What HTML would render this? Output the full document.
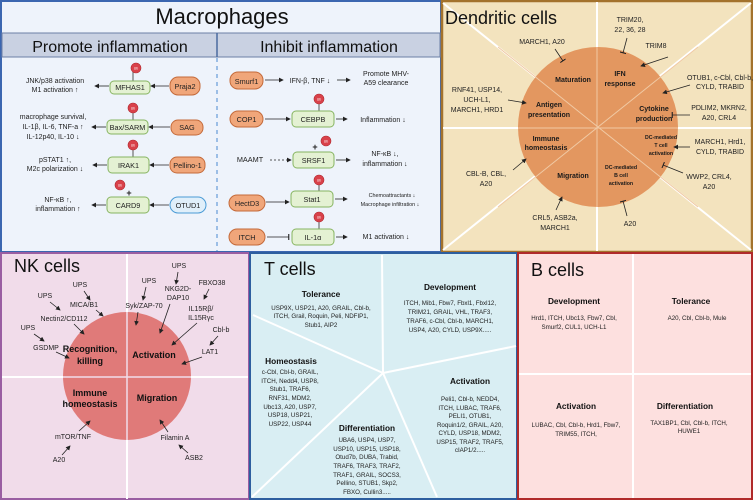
<!DOCTYPE html>
<html><head><meta charset="utf-8"><style>
html,body{margin:0;padding:0;background:#fff}
svg{display:block;font-family:"Liberation Sans",Arial,sans-serif}
.b{font-weight:bold}
</style></head><body>
<svg width="753" height="500" viewBox="0 0 753 500" xmlns="http://www.w3.org/2000/svg">
<defs>
<marker id="a" markerWidth="6" markerHeight="6" refX="5" refY="3" orient="auto"><path d="M0,0 L6,3 L0,6 z" fill="#222"/></marker>
<marker id="t" markerWidth="2" markerHeight="8" refX="1" refY="4" orient="auto"><rect x="0" y="0" width="1.4" height="8" fill="#222"/></marker>
</defs>

<!-- MACROPHAGES -->
<rect x="1" y="1" width="440" height="251" fill="#eef3fb" stroke="#3b66b0" stroke-width="2"/>
<text x="222" y="24" font-size="22" text-anchor="middle" fill="#111">Macrophages</text>
<rect x="2" y="33" width="438" height="24" fill="#c9d1e2" stroke="#6c7fa6" stroke-width="1"/>
<line x1="217" y1="33" x2="217" y2="57" stroke="#4a6aa0" stroke-width="1.5"/>
<line x1="217" y1="58" x2="217" y2="251" stroke="#4a8ad0" stroke-width="1" stroke-dasharray="4,4"/>
<text x="110" y="52" font-size="16" text-anchor="middle" fill="#111">Promote inflammation</text>
<text x="329" y="52" font-size="16" text-anchor="middle" fill="#111">Inhibit inflammation</text>

<g font-size="7" fill="#222" text-anchor="middle">
<g stroke="#555" stroke-width="1">
<line x1="133" y1="70" x2="133" y2="81"/><line x1="133" y1="112" x2="133" y2="121"/><line x1="133" y1="149" x2="133" y2="157"/>
<line x1="319" y1="103" x2="319" y2="111"/><line x1="319" y1="183" x2="319" y2="191"/><line x1="319" y1="221" x2="319" y2="229"/>
</g>
<g fill="#d9414a" stroke="#b02a30" stroke-width="0.6">
<circle cx="136" cy="68" r="5"/><circle cx="133" cy="108" r="5"/><circle cx="133" cy="145" r="5"/><circle cx="120" cy="185" r="5"/>
<circle cx="319" cy="99" r="5"/><circle cx="326" cy="141" r="5"/><circle cx="319" cy="180" r="5"/><circle cx="319" cy="217" r="5"/>
</g>
<g font-size="3.5" fill="#fff"><text x="136" y="69.5">Ub</text><text x="133" y="109.5">Ub</text><text x="133" y="146.5">Ub</text><text x="120" y="186.5">Ub</text><text x="319" y="100.5">Ub</text><text x="326" y="142.5">Ub</text><text x="319" y="181.5">Ub</text><text x="319" y="218.5">Ub</text></g>
<text x="129" y="196" font-size="9" class="b">+</text><text x="315" y="150" font-size="9" class="b">+</text>

<g fill="#e4f1d3" stroke="#86b460" stroke-width="1">
<rect x="110" y="81" width="40" height="13" rx="4"/><rect x="107" y="120" width="41" height="14" rx="4"/>
<rect x="108" y="157" width="41" height="16" rx="4"/><rect x="107" y="197" width="42" height="16" rx="4"/>
<rect x="292" y="111" width="42" height="16" rx="4"/><rect x="293" y="152" width="41" height="16" rx="4"/>
<rect x="291" y="191" width="42" height="16" rx="4"/><rect x="292" y="229" width="42" height="16" rx="4"/>
</g>
<g fill="#f0a67a" stroke="#c46a3a" stroke-width="1">
<rect x="170" y="77" width="30" height="18" rx="8"/><rect x="171" y="120" width="32" height="15" rx="7"/>
<rect x="170" y="157" width="35" height="16" rx="7"/>
<rect x="230" y="72" width="33" height="17" rx="8"/><rect x="230" y="111" width="33" height="16" rx="8"/>
<rect x="229" y="195" width="36" height="16" rx="8"/><rect x="229" y="229" width="36" height="16" rx="8"/>
</g>
<rect x="170" y="197" width="36" height="16" rx="8" fill="#e0effa" stroke="#4a9bd6"/>

<g font-size="7.3">
<text x="130" y="90">MFHAS1</text><text x="127.5" y="130">Bax/SARM</text><text x="128.5" y="168">IRAK1</text><text x="128" y="208">CARD9</text>
<text x="185" y="89">Praja2</text><text x="187" y="130">SAG</text><text x="187.5" y="168">Pellino-1</text><text x="188" y="208">OTUD1</text>
<text x="246.5" y="84">Smurf1</text><text x="246.5" y="122">COP1</text><text x="247" y="206">HectD3</text><text x="247" y="240">ITCH</text>
<text x="313" y="122">CEBPB</text><text x="313.5" y="163">SRSF1</text><text x="312" y="202">Stat1</text><text x="313" y="240">IL-1α</text>
<text x="250" y="162">MAAMT</text>
</g>
<g font-size="7">
<text x="55" y="83">JNK/p38 activation</text><text x="55" y="92">M1 activation ↑</text>
<text x="53" y="119">macrophage survival,</text><text x="53" y="129">IL-1β, IL-6, TNF-a ↑</text><text x="53" y="139">IL-12p40, IL-10 ↓</text>
<text x="55" y="162">pSTAT1 ↑,</text><text x="55" y="171">M2c polarization ↓</text>
<text x="58" y="202">NF-κB ↑,</text><text x="58" y="211">inflammation ↑</text>
<text x="310" y="83">IFN-β, TNF ↓</text>
<text x="386" y="76">Promote MHV-</text><text x="386" y="85">A59 clearance</text>
<text x="383" y="122">Inflammation ↓</text>
<text x="385" y="156">NF-κB ↓,</text><text x="385" y="166">inflammation ↓</text>
<text x="392" y="197" font-size="5.4">Chemoattractants ↓</text><text x="390" y="206" font-size="5.4">Macrophage infiltration ↓</text>
<text x="386" y="239">M1 activation ↓</text>
</g>
<g stroke="#222" stroke-width="0.8" fill="none" marker-end="url(#a)">
<line x1="169" y1="86" x2="151" y2="86"/><line x1="109" y1="86" x2="95" y2="86"/>
<line x1="170" y1="127" x2="149" y2="127"/><line x1="106" y1="127" x2="92" y2="127"/>
<line x1="169" y1="165" x2="150" y2="165"/><line x1="107" y1="165" x2="93" y2="165"/>
<line x1="169" y1="205" x2="150" y2="205"/><line x1="106" y1="205" x2="92" y2="205"/>
<line x1="265" y1="80" x2="283" y2="80"/><line x1="337" y1="80" x2="350" y2="80"/>
<line x1="265" y1="119" x2="290" y2="119"/><line x1="336" y1="119" x2="347" y2="119"/>
<line x1="270" y1="160" x2="291" y2="160" stroke-dasharray="2,2"/><line x1="336" y1="160" x2="350" y2="160"/>
<line x1="266" y1="202" x2="289" y2="202"/><line x1="335" y1="199" x2="347" y2="199"/>
<line x1="336" y1="237" x2="347" y2="237"/>
</g>
<line x1="267" y1="237" x2="289" y2="237" stroke="#222" stroke-width="0.8" marker-end="url(#t)"/>
</g>

<!-- DENDRITIC CELLS -->
<rect x="442" y="1" width="310" height="251" fill="#f3e3be" stroke="#a3722c" stroke-width="2.5"/>
<g stroke="#fff" stroke-width="2">
<line x1="443" y1="3" x2="751" y2="250"/><line x1="751" y1="3" x2="443" y2="250"/>
<line x1="443" y1="128" x2="751" y2="128"/><line x1="597" y1="2" x2="597" y2="251"/>
</g>
<circle cx="598" cy="127" r="80" fill="#e39760"/>
<g stroke="#f0c9a4" stroke-width="1">
<line x1="498" y1="47" x2="698" y2="207"/><line x1="698" y1="47" x2="498" y2="207"/>
<line x1="518" y1="128" x2="678" y2="128"/><line x1="597" y1="47" x2="597" y2="207"/>
</g>
<text x="445" y="24" font-size="18" fill="#111">Dendritic cells</text>
<g font-size="7" text-anchor="middle" fill="#222">
<text x="542" y="44">MARCH1, A20</text>
<text x="630" y="22">TRIM20,</text><text x="630" y="32">22, 36, 28</text>
<text x="656" y="48">TRIM8</text>
<text x="720" y="80">OTUB1, c-Cbl, Cbl-b,</text><text x="720" y="89">CYLD, TRABID</text>
<text x="477" y="92">RNF41, USP14,</text><text x="477" y="102">UCH-L1,</text><text x="477" y="112">MARCH1, HRD1</text>
<text x="719" y="110">PDLIM2, MKRN2,</text><text x="719" y="120">A20, CRL4</text>
<text x="720" y="144">MARCH1, Hrd1,</text><text x="720" y="154">CYLD, TRABID</text>
<text x="486" y="176">CBL-B, CBL,</text><text x="486" y="186">A20</text>
<text x="709" y="179">WWP2, CRL4,</text><text x="709" y="189">A20</text>
<text x="555" y="220">CRL5, ASB2a,</text><text x="555" y="230">MARCH1</text>
<text x="630" y="226">A20</text>
</g>
<g font-size="7" text-anchor="middle" fill="#1a1a1a" class="b">
<text x="573" y="82">Maturation</text>
<text x="620" y="76">IFN</text><text x="620" y="86">response</text>
<text x="549" y="107">Antigen</text><text x="549" y="117">presentation</text>
<text x="654" y="111">Cytokine</text><text x="654" y="121">production</text>
<text x="546" y="141">Immune</text><text x="546" y="150">homeostasis</text>
<text x="661" y="139" font-size="5.2">DC-mediated</text><text x="661" y="147" font-size="5.2">T cell</text><text x="661" y="155" font-size="5.2">activation</text>
<text x="573" y="178">Migration</text>
<text x="621" y="169" font-size="5.2">DC-mediated</text><text x="621" y="177" font-size="5.2">B cell</text><text x="621" y="185" font-size="5.2">activation</text>
</g>
<g stroke="#222" stroke-width="0.8" fill="none">
<g marker-end="url(#a)">
<line x1="668" y1="57" x2="641" y2="66"/><line x1="690" y1="85" x2="663" y2="93"/>
<line x1="508" y1="100" x2="526" y2="103"/><line x1="690" y1="147" x2="674" y2="147"/>
<line x1="513" y1="170" x2="526" y2="159"/><line x1="556" y1="210" x2="562" y2="197"/>
</g>
<g marker-end="url(#t)">
<line x1="555" y1="49" x2="563" y2="61"/><line x1="627" y1="38" x2="623" y2="53"/>
<line x1="690" y1="115" x2="672" y2="115"/><line x1="683" y1="173" x2="663" y2="165"/>
<line x1="627" y1="216" x2="623" y2="201"/>
</g>
</g>

<!-- NK CELLS -->
<rect x="1" y="253" width="248" height="246" fill="#f1dcea" stroke="#9a5ea2" stroke-width="2"/>
<g stroke="#fff" stroke-width="2"><line x1="127" y1="254" x2="127" y2="499"/><line x1="2" y1="377" x2="248" y2="377"/></g>
<circle cx="127" cy="376" r="64" fill="#e07a79"/>
<g stroke="#f1dcea" stroke-width="1.5"><line x1="127" y1="312" x2="127" y2="440"/><line x1="63" y1="377" x2="191" y2="377"/></g>
<text x="14" y="272" font-size="18" fill="#111">NK cells</text>
<g font-size="7" text-anchor="middle" fill="#222">
<text x="80" y="287">UPS</text><text x="84" y="307">MICA/B1</text>
<text x="45" y="298">UPS</text><text x="64" y="321">Nectin2/CD112</text>
<text x="28" y="330">UPS</text><text x="46" y="350">GSDMP</text>
<text x="149" y="283">UPS</text><text x="144" y="308">Syk/ZAP-70</text>
<text x="179" y="268">UPS</text><text x="178" y="291">NKG2D-</text><text x="178" y="300">DAP10</text>
<text x="212" y="285">FBXO38</text><text x="201" y="311">IL15Rβ/</text><text x="201" y="320">IL15Rγc</text>
<text x="221" y="332">Cbl-b</text><text x="210" y="354">LAT1</text>
<text x="73" y="439">mTOR/TNF</text><text x="59" y="462">A20</text>
<text x="175" y="440">Filamin A</text><text x="194" y="460">ASB2</text>
</g>
<g font-size="9" text-anchor="middle" fill="#111" class="b">
<text x="90" y="352">Recognition,</text><text x="90" y="364">killing</text>
<text x="154" y="358">Activation</text>
<text x="90" y="396">Immune</text><text x="90" y="407">homeostasis</text>
<text x="157" y="401">Migration</text>
</g>
<g stroke="#222" stroke-width="0.8" marker-end="url(#a)">
<line x1="84" y1="291" x2="90" y2="300"/><line x1="96" y1="310" x2="103" y2="316"/>
<line x1="50" y1="302" x2="60" y2="310"/><line x1="74" y1="324" x2="84" y2="334"/>
<line x1="34" y1="334" x2="44" y2="341"/><line x1="56" y1="352" x2="69" y2="358"/>
<line x1="146" y1="287" x2="143" y2="300"/><line x1="138" y1="312" x2="136" y2="325"/>
<line x1="178" y1="272" x2="176" y2="284"/><line x1="170" y1="304" x2="160" y2="333"/>
<line x1="209" y1="289" x2="204" y2="299"/><line x1="197" y1="323" x2="172" y2="345"/>
<line x1="218" y1="336" x2="210" y2="345"/><line x1="202" y1="357" x2="182" y2="364"/>
<line x1="79" y1="431" x2="90" y2="421"/><line x1="62" y1="455" x2="70" y2="446"/>
<line x1="168" y1="432" x2="160" y2="420"/><line x1="188" y1="453" x2="179" y2="445"/>
</g>

<!-- T CELLS -->
<rect x="250" y="253" width="267" height="246" fill="#d9eef3" stroke="#2d5e9f" stroke-width="2"/>
<g stroke="#fff" stroke-width="2">
<line x1="383" y1="373" x2="253" y2="315"/><line x1="383" y1="373" x2="382" y2="255"/>
<line x1="383" y1="373" x2="516" y2="346"/><line x1="383" y1="373" x2="252" y2="497"/>
<line x1="383" y1="373" x2="437" y2="497"/>
</g>
<text x="264" y="275" font-size="18" fill="#111">T cells</text>
<g font-size="8.3" text-anchor="middle" fill="#111" class="b">
<text x="321" y="297">Tolerance</text><text x="450" y="290">Development</text>
<text x="291" y="364">Homeostasis</text><text x="470" y="384">Activation</text><text x="367" y="431">Differentiation</text>
</g>
<g font-size="6.2" text-anchor="middle" fill="#222">
<text x="321" y="310">USP9X, USP21, A20, GRAIL, Cbl-b,</text><text x="321" y="318">ITCH, Grail, Roquin, Peli, NDFIP1,</text><text x="321" y="327">Stub1, AIP2</text>
<text x="450" y="305">ITCH, Mib1, Fbw7, Fbxl1, Fbxl12,</text><text x="450" y="314">TRIM21, GRAIL, VHL, TRAF3,</text><text x="450" y="323">TRAF6, c-Cbl, Cbl-b, MARCH1,</text><text x="450" y="332">USP4, A20, CYLD, USP9X.....</text>
<text x="290" y="374">c-Cbl, Cbl-b, GRAIL,</text><text x="290" y="383">ITCH, Nedd4, USP8,</text><text x="290" y="391">Stub1, TRAF6,</text><text x="290" y="400">RNF31, MDM2,</text><text x="290" y="409">Ubc13, A20, USP7,</text><text x="290" y="417">USP18, USP21,</text><text x="290" y="426">USP22, USP44</text>
<text x="470" y="401">Peli1, Cbl-b, NEDD4,</text><text x="470" y="410">ITCH, LUBAC, TRAF6,</text><text x="470" y="418">PELI1, OTUB1,</text><text x="470" y="427">Roquin1/2, GRAIL, A20,</text><text x="470" y="435">CYLD, USP18, MDM2,</text><text x="470" y="444">USP15, TRAF2, TRAF5,</text><text x="470" y="452">cIAP1/2.....</text>
<text x="367" y="442">UBA6, USP4, USP7,</text><text x="367" y="451">USP10, USP15, USP18,</text><text x="367" y="459">Otud7b, DUBA, Trabid,</text><text x="367" y="468">TRAF6, TRAF3, TRAF2,</text><text x="367" y="477">TRAF1, GRAIL, SOCS3,</text><text x="367" y="485">Pellino, STUB1, Skp2,</text><text x="367" y="494">FBXO, Cullin3.....</text>
</g>

<!-- B CELLS -->
<rect x="518" y="253" width="234" height="246" fill="#fde0df" stroke="#b02a2a" stroke-width="2"/>
<g stroke="#fff" stroke-width="2"><line x1="633" y1="254" x2="633" y2="498"/><line x1="519" y1="374" x2="751" y2="374"/></g>
<text x="531" y="276" font-size="18" fill="#111">B cells</text>
<g font-size="8.3" text-anchor="middle" fill="#111" class="b">
<text x="574" y="304">Development</text><text x="691" y="304">Tolerance</text>
<text x="576" y="409">Activation</text><text x="685" y="409">Differentiation</text>
</g>
<g font-size="6.2" text-anchor="middle" fill="#222">
<text x="574" y="320">Hrd1, ITCH, Ubc13, Fbw7, Cbl,</text><text x="574" y="329">Smurf2, CUL1, UCH-L1</text>
<text x="697" y="320">A20, Cbl, Cbl-b, Mule</text>
<text x="576" y="427">LUBAC, Cbl, Cbl-b, Hrd1, Fbw7,</text><text x="576" y="436">TRIM55, ITCH,</text>
<text x="689" y="425">TAX1BP1, Cbl, Cbl-b, ITCH,</text><text x="689" y="433">HUWE1</text>
</g>
</svg>
</body></html>
